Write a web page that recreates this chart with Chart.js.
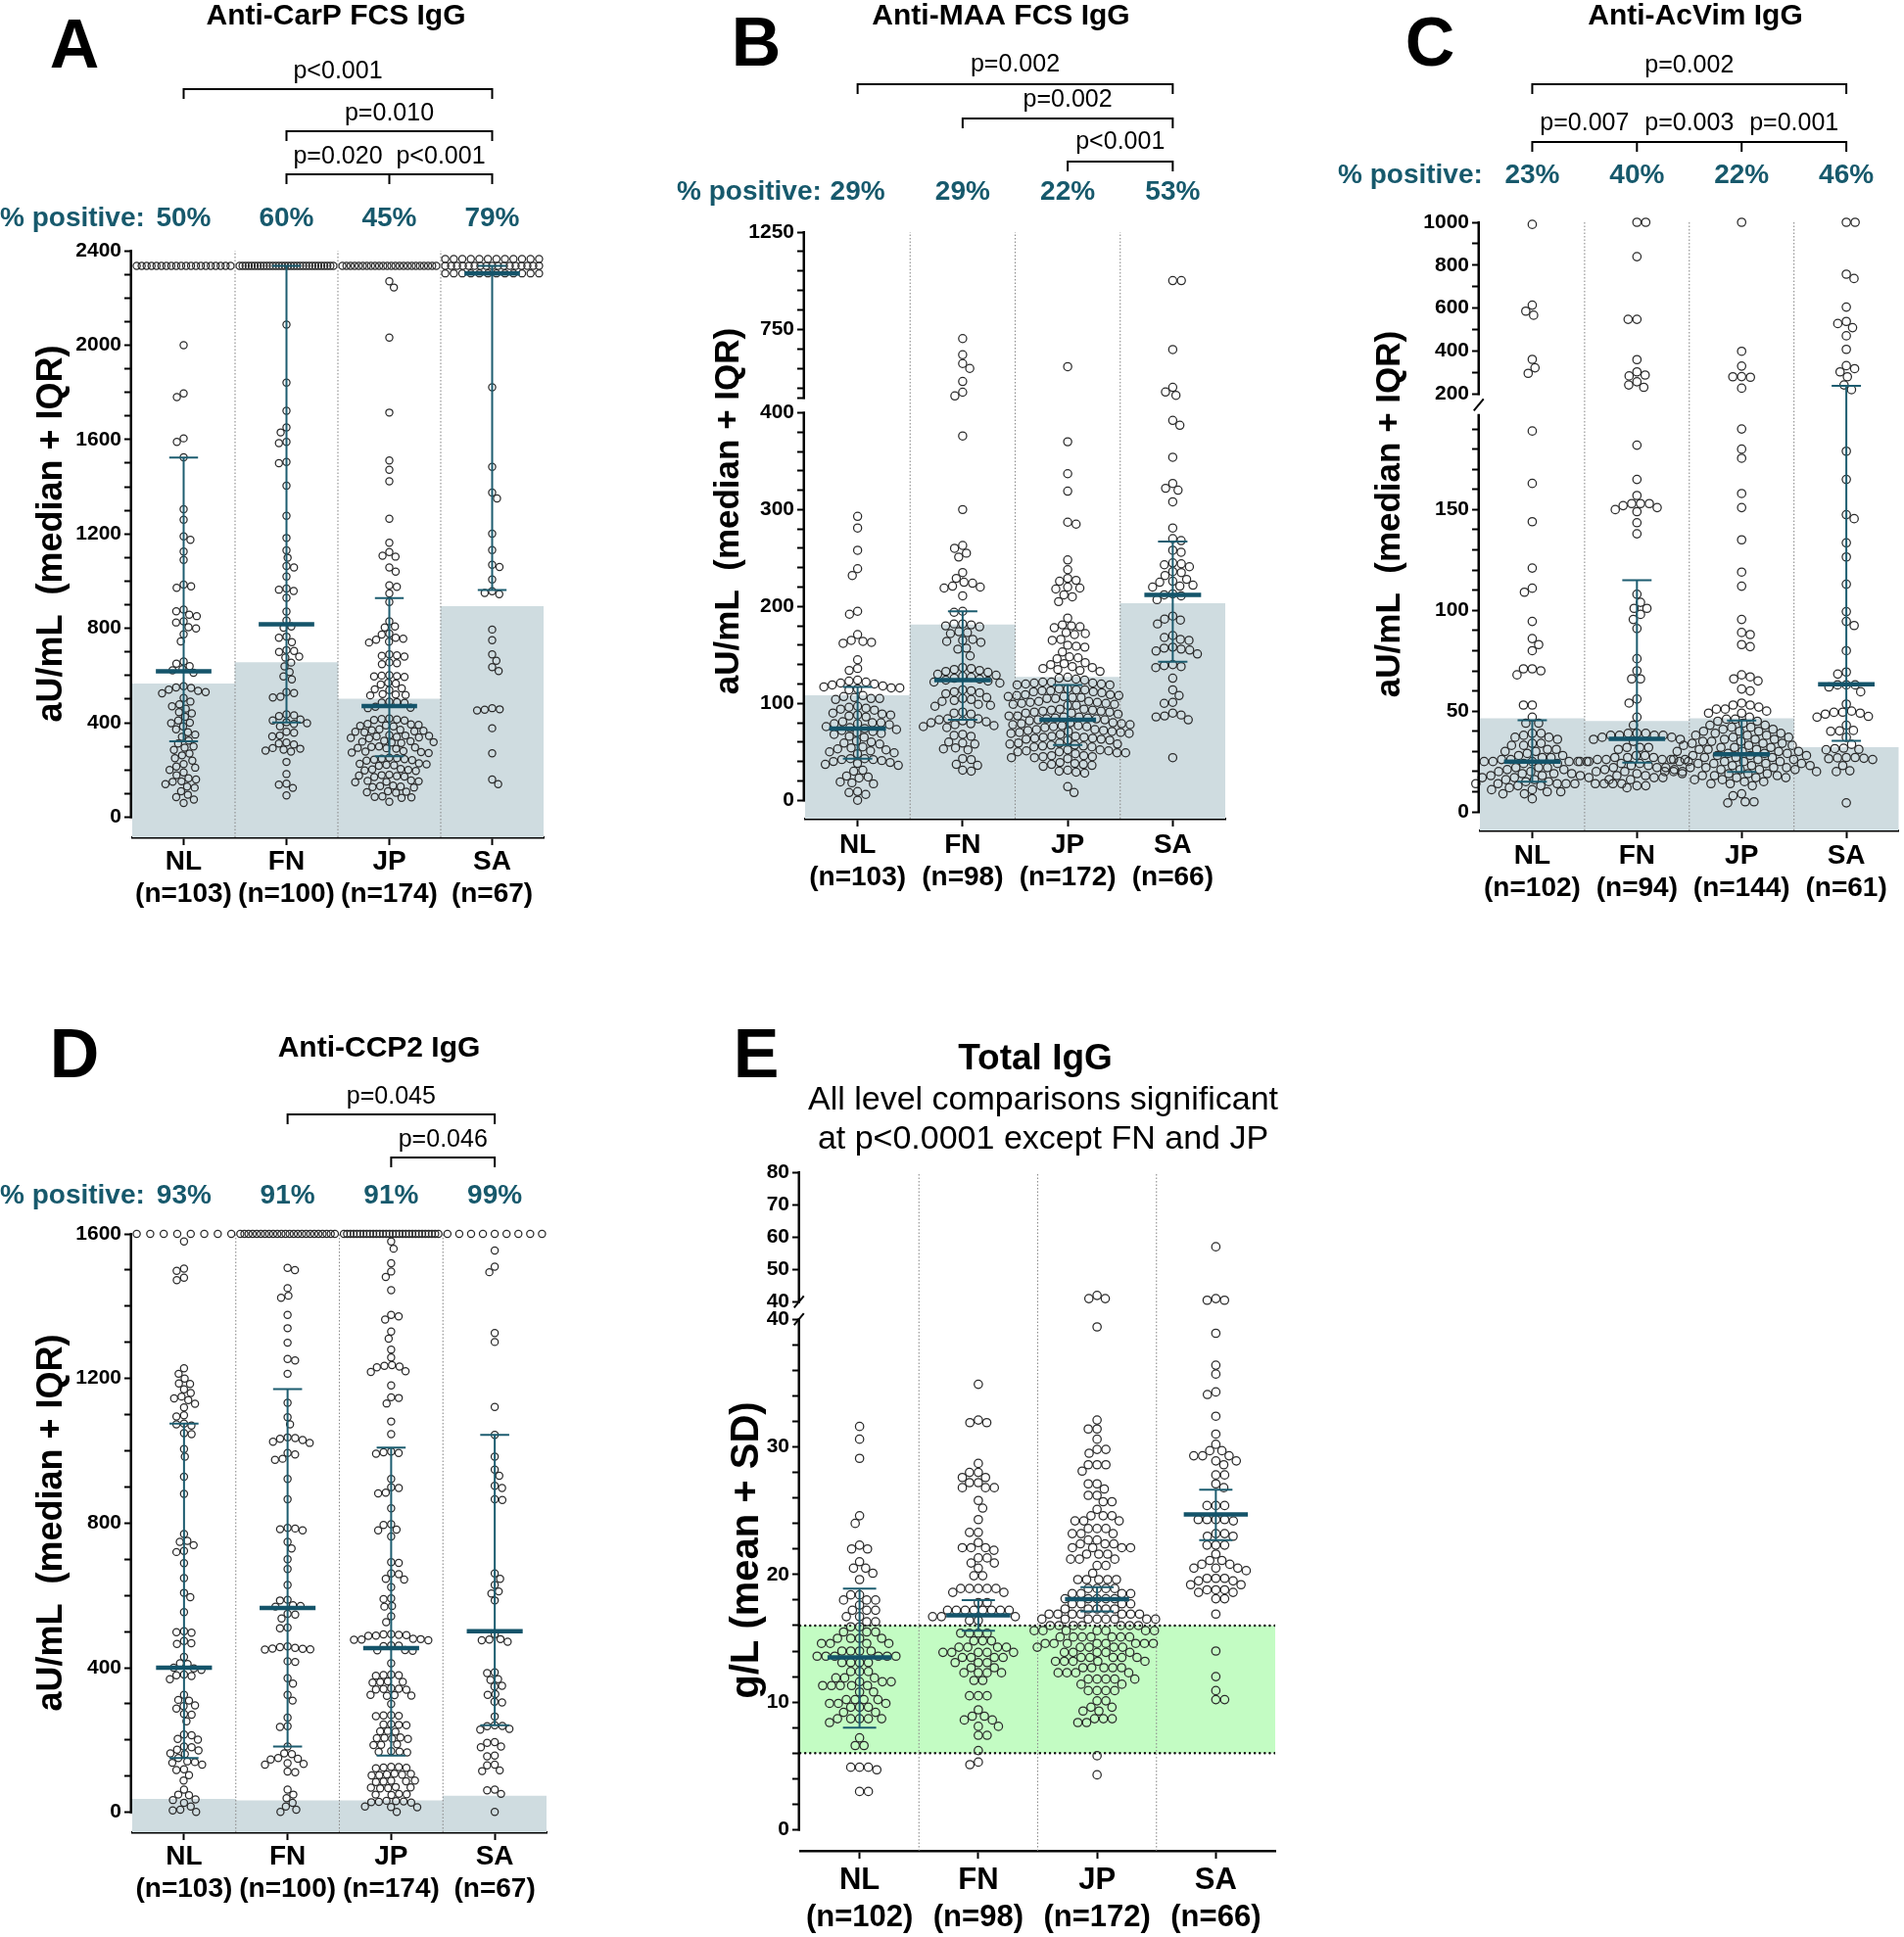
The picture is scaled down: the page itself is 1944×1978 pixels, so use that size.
<!DOCTYPE html>
<html>
<head>
<meta charset="utf-8">
<title>Autoantibody levels by population</title>
<script src="https://cdn.jsdelivr.net/npm/chart.js@4.4.1/dist/chart.umd.min.js"></script>
<style>
  html, body { margin: 0; padding: 0; background: #fff; }
  body { width: 1944px; height: 1978px; position: relative; overflow: hidden; }
  canvas { position: absolute; }
</style>
</head>
<body>
<canvas id="panelA" width="600" height="960" style="left:0;top:0"></canvas>
<canvas id="panelB" width="600" height="960" style="left:680px;top:0"></canvas>
<canvas id="panelC" width="600" height="960" style="left:1344px;top:0"></canvas>
<canvas id="panelD" width="600" height="978" style="left:0;top:1000px"></canvas>
<canvas id="panelE" width="640" height="978" style="left:690px;top:1000px"></canvas>
<script>
/* ---------- data ---------- */
const groupNames = ['NL', 'FN', 'JP', 'SA'];

// A: Anti-CarP FCS IgG (aU/mL)
const carpN = [103, 100, 174, 67];
const carpPositive = ['50%', '60%', '45%', '79%'];
const carpP = ['p<0.001', 'p=0.010', 'p=0.020', 'p<0.001'];
const carpMedian = [618, 817, 471, 2304];
const carpQ1 = [322, 401, 258, 963];
const carpQ3 = [1524, 2336, 928, 2336];
const carpCutoff = [565, 655, 501, 893];
const carpTicks = [0, 400, 800, 1200, 1600, 2000, 2400];
const carpNL = [
  2336, 2336, 2336, 2336, 2336, 2336, 2336, 2336, 2336, 2336,
  2336, 2336, 2336, 2336, 2336, 2336, 2336, 2336, 2336, 2336,
  2000, 1795, 1780, 1605, 1590, 1525, 1305, 1260, 1190, 1175,
  1125, 1090, 985, 978, 972, 880, 872, 858, 852, 830,
  825, 805, 800, 775, 745, 660, 650, 640, 628, 622,
  612, 555, 550, 548, 540, 535, 530, 525, 505, 490,
  478, 470, 460, 445, 440, 425, 410, 400, 398, 385,
  372, 360, 350, 340, 325, 312, 300, 295, 285, 270,
  262, 250, 240, 225, 215, 210, 200, 190, 178, 165,
  160, 152, 150, 140, 130, 125, 110, 95, 85, 75, 60
];
const carpFN = [
  2336, 2336, 2336, 2336, 2336, 2336, 2336, 2336, 2336, 2336,
  2336, 2336, 2336, 2336, 2336, 2336, 2336, 2336, 2336, 2336,
  2336, 2336, 2336, 2336, 2336, 2336, 2336, 2336, 2336, 2336,
  2336, 2336,
  2087, 1841, 1722, 1651, 1630, 1590, 1585, 1505, 1500, 1404,
  1277, 1183, 1131, 1099, 1064, 1058, 1020, 969, 964, 958,
  929, 871, 833, 808, 803, 765, 760, 742, 708, 704,
  700, 680, 676, 655, 639, 615, 596, 584, 530, 526,
  510, 507, 436, 432, 428, 414, 410, 402, 398, 395,
  385, 362, 358, 346, 342, 316, 312, 308, 293, 290,
  286, 282, 278, 234, 183, 142, 138, 124, 92
];
const carpJP = [
  2336, 2336, 2336, 2336, 2336, 2336, 2336, 2336, 2336, 2336,
  2336, 2336, 2336, 2336, 2336, 2336, 2336, 2336, 2336, 2336,
  2336, 2336, 2336, 2336,
  2270, 2244, 2032, 1714, 1511, 1472, 1423, 1264, 1163, 1123,
  1108, 1104, 1058, 1040, 982, 976, 948, 912, 830, 808,
  804, 778, 774, 760, 756, 752, 744, 740, 690, 686,
  684, 680, 656, 652, 648, 602, 600, 598, 596, 594,
  570, 566, 562, 546, 542, 538, 522, 520, 518, 516,
  490, 488, 486, 484, 468, 464, 462, 418, 416, 414,
  412, 410, 395, 393, 391, 389, 387, 385, 372, 370,
  368, 366, 364, 362, 360, 348, 346, 344, 342, 340,
  338, 336, 334, 324, 322, 320, 318, 316, 314, 300,
  298, 296, 294, 292, 290, 280, 278, 276, 274, 272,
  252, 250, 248, 246, 244, 242, 240, 228, 226, 224,
  222, 220, 218, 204, 202, 200, 198, 196, 180, 178,
  176, 174, 172, 170, 156, 154, 152, 150, 148, 134,
  132, 130, 128, 126, 110, 108, 106, 104, 88, 86,
  84, 82, 65
];
const carpSA = [
  2365, 2365, 2365, 2365, 2365, 2365, 2365, 2365, 2365, 2365, 2365, 2365,
  2336, 2336, 2336, 2336, 2336, 2336, 2336, 2336, 2336, 2336,
  2336, 2336, 2336, 2336, 2336, 2336, 2336,
  2304, 2304, 2304, 2304, 2304, 2304, 2304, 2304, 2304, 2304, 2304, 2304,
  1821, 1484, 1375, 1350, 1201, 1132, 1069, 1060, 1007, 957,
  950, 945, 795, 750, 690, 663, 636, 619, 462, 457,
  455, 452, 377, 271, 160, 140
];

// B: Anti-MAA FCS IgG (aU/mL)
const maaN = [103, 98, 172, 66];
const maaPositive = ['29%', '29%', '22%', '53%'];
const maaP = ['p=0.002', 'p=0.002', 'p<0.001'];
const maaMedian = [74, 124, 83, 212];
const maaQ1 = [43, 83, 57, 143];
const maaQ3 = [117, 195, 119, 267];
const maaCutoff = [108, 181, 127, 203];
const maaTicksLow = [0, 100, 200, 300, 400];
const maaTicksHigh = [750, 1250];
const maaNL = [
  293, 281, 258, 239, 232, 195, 192, 171, 165, 164,
  163, 162, 145, 136, 134, 124, 123, 122, 121, 120,
  119, 118, 117, 116, 116, 115, 114, 108, 107, 106,
  105, 105, 104, 97, 96, 95, 94, 93, 90, 89,
  88, 88, 87, 86, 81, 80, 80, 79, 79, 78,
  76, 75, 74, 73, 72, 71, 70, 69, 68, 66,
  65, 61, 60, 59, 58, 55, 54, 53, 52, 51,
  50, 49, 48, 43, 43, 42, 42, 41, 40, 39,
  38, 37, 36, 31, 30, 25, 24, 23, 19, 18,
  17, 9, 8, 6, 0
];
const maaFN = [
  704, 621, 576, 551, 484, 429, 410, 376, 300, 263,
  260, 255, 251, 235, 229, 225, 224, 221, 220, 219,
  211, 195, 194, 182, 182, 181, 180, 179, 174, 173,
  172, 166, 165, 164, 163, 157, 156, 149, 137, 136,
  135, 134, 133, 132, 130, 129, 128, 127, 126, 125,
  124, 123, 122, 121, 114, 113, 112, 111, 110, 106,
  105, 104, 103, 102, 99, 98, 97, 91, 90, 89,
  84, 84, 83, 82, 81, 80, 79, 78, 77, 76,
  75, 68, 67, 66, 60, 59, 58, 54, 53, 52,
  43, 42, 37, 36, 31, 30
];
const maaJP = [
  560, 370, 337, 319, 287, 285, 248, 238, 229, 227,
  226, 220, 219, 218, 212, 210, 205, 188, 181, 180,
  179, 178, 173, 172, 171, 166, 165, 160, 159, 158,
  153, 148, 147, 146, 142, 141, 140, 138, 137, 136,
  135, 134, 133, 127, 126, 125, 124,
  122, 122, 121, 121, 120, 120, 119, 119,
  115, 115, 114, 114, 113, 113, 112, 112, 111,
  109, 109, 108, 108, 107, 107, 106, 106, 105, 105,
  102, 102, 101, 101, 100, 100, 99, 99, 98, 98,
  94, 94, 93, 93, 92, 92, 91, 91, 90, 90, 89,
  87, 87, 86, 86, 85, 85, 84, 84, 83, 83, 82,
  80, 80, 79, 79, 78, 78, 77, 77, 76, 76, 75,
  73, 73, 72, 72, 71, 71, 70, 70, 69, 69, 68,
  66, 66, 65, 65, 64, 64, 63, 63, 62, 62,
  59, 59, 58, 58, 57, 57, 56, 56, 55, 55,
  52, 52, 51, 51, 50, 50, 49, 49, 48,
  46, 46, 45, 45, 44, 44, 43,
  39, 38, 37, 37, 36, 35,
  31, 30, 29, 28, 14, 8
];
const maaSA = [
  1001, 1001, 648, 454, 430, 413, 392, 387, 354, 327,
  322, 320, 308, 281, 270, 268, 258, 256, 245, 244,
  243, 241, 236, 235, 232, 228, 226, 225, 222, 221,
  220, 213, 212, 211, 207, 190, 187, 186, 182, 170,
  168, 166, 165, 158, 157, 156, 155, 154, 151, 140,
  139, 138, 137, 126, 114, 108, 101, 100, 90, 88,
  87, 86, 83, 44
];

// C: Anti-AcVim IgG (aU/mL)
const acvN = [102, 94, 144, 61];
const acvPositive = ['23%', '40%', '22%', '46%'];
const acvP = ['p=0.002', 'p=0.007', 'p=0.003', 'p=0.001'];
const acvMedian = [25, 36.3, 28.6, 63.3];
const acvQ1 = [15, 24.5, 19.8, 35.3];
const acvQ3 = [45.5, 115, 45.3, 238];
const acvCutoff = [46.3, 45, 46.3, 32];
const acvTicksLow = [0, 50, 100, 150];
const acvTicksHigh = [200, 400, 600, 800, 1000];
const acvNL = [
  990, 614, 586, 567, 361, 322, 296, 189, 163, 144,
  121, 111, 109, 94.5, 86, 83, 80, 71, 71, 70,
  68, 53, 53, 47, 44, 44, 39, 39, 38, 37,
  37, 36, 34, 34, 33, 33, 31, 31, 30, 30,
  29, 28, 28, 27, 27, 26, 26, 25, 25, 25,
  25, 25, 25, 24, 24, 22, 22, 22, 21, 21,
  20, 20, 19, 19, 19, 18, 18, 18, 17, 17,
  17, 16, 16, 15, 15, 14, 14, 14, 14, 14,
  14, 14, 14, 14, 14, 14, 14, 13, 13, 12,
  11, 11, 10, 10, 9, 9, 6.5
];
const acvFN = [
  1000, 1000, 840, 548, 548, 360, 303, 288, 284, 257,
  242, 231, 182, 165, 157, 153, 153, 153, 152, 151,
  150, 149, 143.5, 138, 108, 104, 101, 101, 98, 95.5,
  91, 76, 70, 66, 66, 56, 54, 47, 43, 39,
  39, 39, 38, 38, 38, 38, 37, 37, 36, 36,
  35, 32, 32, 32, 31, 28, 28, 27, 27, 27,
  26, 26, 26, 26, 25, 25, 25, 25, 24, 24,
  23, 23, 22, 22, 22, 21, 21, 20, 20, 19,
  19, 18, 18, 17, 17, 16, 16, 13, 13, 12
];
const acvJP = [
  1000, 399, 330, 281, 280, 278, 227, 190, 180, 175.5,
  158, 151, 135, 119, 112, 95.5, 89, 88, 83, 82,
  68, 67, 66, 65, 61, 60, 54, 53, 53, 52,
  51, 51, 50, 49, 49, 47, 46, 46, 45, 45,
  44, 43, 43, 42, 42, 41, 41, 40, 40, 40,
  39, 39, 38, 38, 38, 37, 37, 36, 36, 36,
  35, 35, 35, 34, 34, 34, 33, 33, 33, 32,
  32, 32, 31, 31, 31, 30, 30, 30, 30, 29,
  29, 29, 28, 28, 28, 28, 27, 27, 27, 26,
  26, 26, 26, 25, 25, 25, 24, 24, 24, 24,
  23, 23, 23, 22, 22, 22, 22, 21, 21, 21,
  21, 20, 20, 20, 20, 19, 19, 19, 18, 18,
  18, 17, 17, 17, 16, 16, 15, 15, 14, 14,
  13, 9, 8, 5, 5, 4.5
];
const acvSA = [
  1000, 1000, 758, 738, 605, 538, 528, 509, 471, 408,
  332, 318, 303, 280, 242, 220, 179, 165, 147.5, 145.5,
  133.5, 126.5, 113, 99.4, 94.5, 92.5, 80, 69.4, 68.4, 63,
  63, 63, 62, 59.6, 53.5, 50, 49.5, 49.4, 49, 48.5,
  47.4, 47, 43, 40.4, 40.2, 40, 37, 33.5, 31.6, 31.4,
  31, 30.8, 27, 27, 26.8, 26.6, 26.4, 26, 23, 20.4,
  20, 4.5
];

// D: Anti-CCP2 IgG (aU/mL)
const ccpN = [103, 100, 174, 67];
const ccpPositive = ['93%', '91%', '91%', '99%'];
const ccpP = ['p=0.045', 'p=0.046'];
const ccpMedian = [400, 565, 454, 501];
const ccpQ1 = [150, 182, 157, 241];
const ccpQ3 = [1075, 1171, 1009, 1044];
const ccpCutoff = [36, 32, 32, 45];
const ccpTicks = [0, 400, 800, 1200, 1600];
const ccpNL = [
  1600, 1600, 1600, 1600, 1600, 1600, 1600, 1600,
  1579, 1504, 1498, 1479, 1472, 1228, 1213, 1200, 1186, 1185,
  1170, 1160, 1150, 1145, 1140, 1130, 1120, 1098, 1095, 1075,
  1073, 1070, 1049, 1046, 1005, 984, 928, 881, 770, 751,
  748, 739, 723, 720, 689, 648, 607, 595, 554, 501,
  498, 497, 474, 468, 466, 430, 412, 410, 400, 398,
  394, 381, 379, 377, 368, 325, 311, 309, 296, 294,
  287, 272, 270, 252, 215, 213, 203, 201, 182, 180,
  173, 171, 163, 161, 150, 141, 139, 137, 132, 119,
  117, 103, 88, 63, 49, 47, 36, 34, 26, 16,
  7.5, 5, 1
];
const ccpFN = [
  1600, 1600, 1600, 1600, 1600, 1600, 1600, 1600, 1600, 1600, 1600, 1600,
  1600, 1600, 1600, 1600, 1600, 1600, 1600, 1600, 1600, 1600, 1600, 1600,
  1506, 1500, 1450, 1429, 1423, 1376, 1339, 1299, 1254, 1250,
  1213, 1133, 1093, 1073, 1037, 1035, 1033, 1030, 1025, 1022,
  994, 990, 978, 975, 922, 866, 787, 785, 783, 780,
  748, 730, 700, 673, 629, 588, 586, 573, 571, 569,
  549, 547, 536, 511, 509, 459, 457, 455, 453, 451,
  452, 450, 418, 416, 371, 356, 325, 309, 262, 238,
  236, 182, 163, 161, 150, 148, 146, 136, 134, 132,
  113, 111, 63, 49, 39, 26, 16, 7.5, 1
];
const ccpJP = [
  1600, 1600, 1600, 1600, 1600, 1600, 1600, 1600, 1600, 1600,
  1600, 1600, 1600, 1600, 1600, 1600, 1600, 1600, 1600, 1600,
  1600, 1600, 1600, 1600, 1600, 1600, 1600, 1600, 1600, 1600,
  1579, 1559, 1519, 1496, 1481, 1444, 1376, 1372, 1363, 1330,
  1310, 1280, 1258, 1237, 1235, 1233, 1231, 1220, 1218, 1181,
  1148, 1146, 1131, 1081, 1046, 998, 996, 994, 992, 922,
  899, 897, 884, 882, 841, 797, 795, 782, 780, 763,
  692, 690, 661, 659, 646, 644, 623, 592, 590, 571,
  569, 542, 526, 493, 492, 491, 490, 489, 488, 480,
  479, 478, 477, 476, 462, 461, 460, 449, 448, 447,
  412, 381, 380, 379, 378, 362, 361, 360, 359, 343,
  342, 341, 340, 339, 325, 324, 323, 322, 300, 269,
  268, 267, 266, 244, 243, 242, 241, 225, 224, 223,
  207, 206, 205, 204, 203, 188, 187, 186, 169, 168,
  167, 166, 126, 125, 124, 123, 122, 107, 106, 105,
  104, 103, 102, 88, 87, 86, 85, 84, 70, 69,
  68, 67, 66, 51, 50, 49, 48, 32, 31, 30,
  29, 28, 27, 16, 15, 14, 1
];
const ccpSA = [
  1600, 1600, 1600, 1600, 1600, 1600, 1600, 1600, 1600,
  1554, 1509, 1494, 1326, 1301, 1121, 1044, 984, 948, 931,
  903, 897, 866, 864, 661, 646, 629, 611, 605, 586,
  493, 479, 478, 476, 472, 387, 385, 368, 366, 350,
  348, 327, 325, 306, 304, 265, 241, 239, 238, 231,
  229, 194, 192, 182, 180, 157, 155, 132, 130, 116,
  114, 63, 61, 51, 1
];

// E: Total IgG (g/L)
const iggN = [102, 98, 172, 66];
const iggMean = [13.5, 16.8, 18.06, 24.7];
const iggLow = [8.0, 15.6, 17.1, 22.7];
const iggHigh = [18.9, 18.0, 19.0, 26.65];
const iggRefRange = [6, 16];
const iggTicksLow = [0, 10, 20, 30, 40];
const iggTicksHigh = [40, 50, 60, 70, 80];
const iggNL = [
  31.6, 30.6, 29.1, 24.6, 24.0, 22.3, 22.0, 22.0, 21.0, 20.5,
  20.5, 20.1, 19.6, 18.4, 18.4, 18.0, 18.0, 18.0, 17.6, 17.2,
  17.2, 17.2, 16.7, 16.7, 16.3, 16.3, 15.9, 15.9, 15.5, 15.5,
  15.5, 15.0, 15.0, 15.0, 15.0, 14.6, 14.6, 14.6, 14.6, 14.0,
  14.0, 14.0, 14.0, 13.6, 13.6, 13.6, 13.6, 13.6, 13.6, 13.1,
  13.1, 13.1, 13.1, 12.4, 12.4, 12.4, 11.9, 11.9, 11.9, 11.6,
  11.6, 11.6, 11.3, 11.3, 11.3, 11.3, 11.3, 10.8, 10.8, 10.2,
  10.2, 10.2, 10.2, 9.9, 9.9, 9.9, 9.6, 9.6, 9.6, 9.2,
  9.2, 8.7, 8.7, 8.7, 8.7, 8.7, 8.4, 7.2, 6.6, 6.6,
  4.9, 4.9, 4.9, 4.7, 3.0, 3.0
];
const iggFN = [
  34.9, 32.1, 31.9, 31.9, 28.7, 28.0, 28.0, 27.6, 27.6, 27.2,
  27.2, 26.8, 26.8, 26.8, 25.8, 25.2, 24.3, 23.3, 23.3, 22.5,
  22.1, 22.1, 22.1, 21.9, 21.3, 21.3, 20.9, 20.9, 20.5, 19.9,
  19.9, 18.9, 18.9, 18.9, 18.9, 18.9, 18.6, 18.6, 17.8, 17.8,
  17.2, 17.2, 17.2, 17.2, 17.2, 17.2, 17.2, 17.2, 16.7, 16.7,
  16.7, 16.4, 16.4, 15.4, 15.4, 15.4, 15.4, 14.8, 14.8, 14.8,
  14.3, 14.3, 14.3, 14.3, 13.9, 13.9, 13.9, 13.9, 13.9, 13.5,
  13.5, 13.5, 13.5, 13.1, 13.1, 13.1, 12.7, 12.7, 12.3, 12.3,
  12.3, 12.3, 11.7, 11.7, 10.5, 10.5, 10.5, 9.4, 8.9, 8.9,
  8.6, 8.6, 8.1, 8.1, 7.4, 7.4, 6.2, 5.3, 5.1
];
const iggJP = [
  42, 41, 41, 39.4, 32.1, 31.4, 31.4, 30.6, 29.8, 29.8,
  29.5, 28.6, 28.6, 28.6, 28.1, 27.1, 27.1, 26.7, 26.2, 26.2,
  25.7, 25.7, 25.1, 24.6, 24.6, 24.6, 24.2, 24.2, 24.2, 23.6,
  23.6, 23.6, 23.2, 23.2, 23.2, 22.7, 22.7, 22.4, 22.4, 22.4,
  22.1, 22.1, 22.1, 22.1, 21.6, 21.6, 21.6, 21.2, 21.2, 21.2,
  20.7, 20.7, 20.1, 19.6, 19.6, 19.6, 19.6, 19.6, 18.9, 18.9,
  18.9, 18.9, 18.5, 18.5, 18.5, 18.5, 18.1, 18.1, 18.1, 18.1,
  18.1, 17.7, 17.7, 17.7, 17.7, 17.3, 17.3, 17.3, 17.3, 17.3,
  16.9, 16.9, 16.9, 16.9, 16.9, 16.9, 16.9, 16.5, 16.5, 16.5,
  16.5, 16.5, 16.5, 16.5, 16.5, 16.0, 16.0, 16.0, 16.0, 16.0,
  16.0, 16.0, 15.6, 15.6, 15.6, 15.6, 15.6, 15.6, 15.6, 15.1,
  15.1, 15.1, 15.1, 15.1, 15.1, 15.1, 14.6, 14.6, 14.6, 14.6,
  14.6, 14.6, 14.6, 14.6, 14.3, 14.3, 14.3, 14.3, 14.3, 13.9,
  13.9, 13.9, 13.9, 13.9, 13.5, 13.5, 13.5, 13.5, 13.5, 13.2,
  13.2, 13.2, 13.2, 13.2, 12.7, 12.7, 12.7, 12.7, 12.7, 12.3,
  12.3, 12.3, 12.3, 11.8, 11.8, 11.8, 11.8, 11.8, 11.4, 11.4,
  10.9, 10.9, 10.9, 10.9, 10.1, 10.1, 9.6, 9.6, 9.3, 9.3,
  8.7, 8.7, 8.7, 8.4, 8.4, 5.8, 4.3
];
const iggSA = [
  57, 41, 40.5, 40.5, 38.9, 36.4, 35.7, 34.3, 34.1, 32.4,
  31.0, 30.2, 29.7, 29.7, 29.3, 29.3, 29.3, 28.9, 28.9, 28.6,
  27.8, 27.8, 27.1, 26.8, 25.4, 25.4, 25.4, 24.3, 24.3, 24.3,
  24.3, 24.2, 23.2, 23.2, 23.0, 23.0, 22.3, 22.3, 22.3, 21.6,
  21.1, 21.1, 20.8, 20.8, 20.5, 20.5, 20.5, 20.3, 19.7, 19.7,
  19.7, 19.5, 19.5, 19.2, 19.2, 18.8, 18.8, 18.8, 18.6, 18.6,
  18.1, 18.1, 16.9, 14.0, 12.0, 10.9, 10.2, 10.2
];

/* ---------- styling ---------- */
const FONT = "'Liberation Sans', Arial, Helvetica, sans-serif";
const TEAL = '#17596c';
const BAR_FILL = '#cfdce0';
const BAND_FILL = '#c3fcc3';

function xLabels(nArr) {
  return groupNames.map((g, i) => [g, '(n=' + nArr[i] + ')']);
}

function mapValue(segs, v) {
  for (const s of segs) {
    if (v <= s.to) return s.t0 + (v - s.from) * s.k;
  }
  const s = segs[segs.length - 1];
  return s.t0 + (v - s.from) * s.k;
}

function buildTicks(segs) {
  const out = [];
  segs.forEach(s => {
    const [start, step] = s.minor;
    for (let v = start; v <= s.to + 1e-9; v += step) {
      out.push({t: s.t0 + (v - s.from) * s.k, label: s.major.includes(v) ? String(v) : ''});
    }
    (s.ends || []).forEach(v => out.push({t: s.t0 + (v - s.from) * s.k, label: ''}));
  });
  return out.sort((a, b) => a.t - b.t);
}

const panels = [
  {
    canvas: 'panelA', w: 600, h: 960,
    plot: {l: 135, t: 256, r: 555, b: 855},
    groups: [carpNL, carpFN, carpJP, carpSA], labels: xLabels(carpN),
    mid: carpMedian, lo: carpQ1, hi: carpQ3, cutoff: carpCutoff,
    segs: [{from: 0, to: 2400, t0: 0, k: 1, major: carpTicks, minor: [0, 100]}],
    yMin: -85, rows: [2365, 2336, 2304], r: 3.6, slashes: [],
    xFont: 28, xLine: 1.18, xPad: 1,
    letter: ['A', 76, 50], titles: [['Anti-CarP FCS IgG', 343, 17, 'bold', 30]],
    brackets: [
      {at: [1, 4], y: 91, text: [[carpP[0], 2.5, 73]]},
      {at: [2, 4], y: 134, text: [[carpP[1], 3, 116]]},
      {at: [2, 3, 4], y: 178, text: [[carpP[2], 2.5, 160], [carpP[3], 3.5, 160]]}
    ],
    pct: {vals: carpPositive, x: 0, y: 223},
    yTitle: ['aU/mL  (median + IQR)', 53, 545, 36]
  },
  {
    canvas: 'panelB', w: 600, h: 960,
    plot: {l: 142, t: 237, r: 571, b: 836},
    groups: [maaNL, maaFN, maaJP, maaSA], labels: xLabels(maaN),
    mid: maaMedian, lo: maaQ1, hi: maaQ3, cutoff: maaCutoff,
    segs: [
      {from: 0, to: 400, t0: 0, k: 1, major: maaTicksLow, minor: [0, 20]},
      {from: 400, to: 1250, t0: 415.3, k: 0.2013, major: maaTicksHigh, minor: [450, 100], ends: [400]}
    ],
    yMin: -19, rows: [], r: 4.1, slashes: [],
    xFont: 28, xLine: 1.18, xPad: 3,
    letter: ['B', 92, 48], titles: [['Anti-MAA FCS IgG', 342, 17, 'bold', 30]],
    brackets: [
      {at: [1, 4], y: 86, text: [[maaP[0], 2.5, 66]]},
      {at: [2, 4], y: 121, text: [[maaP[1], 3, 102]]},
      {at: [3, 4], y: 165, text: [[maaP[2], 3.5, 145]]}
    ],
    pct: {vals: maaPositive, x: 11, y: 196},
    yTitle: ['aU/mL  (median + IQR)', 64, 522, 35]
  },
  {
    canvas: 'panelC', w: 600, h: 960,
    plot: {l: 167, t: 227, r: 599, b: 848},
    groups: [acvNL, acvFN, acvJP, acvSA], labels: xLabels(acvN),
    mid: acvMedian, lo: acvQ1, hi: acvQ3, cutoff: acvCutoff,
    segs: [
      {from: 0, to: 197, t0: 0, k: 1, major: acvTicksLow, minor: [0, 10]},
      {from: 200, to: 1000, t0: 207.4, k: 0.1065, major: acvTicksHigh, minor: [200, 100]}
    ],
    yMin: -9.2, rows: [], r: 4.2, slashes: [202],
    xFont: 28, xLine: 1.18, xPad: 2,
    letter: ['C', 116, 48], titles: [['Anti-AcVim IgG', 387, 17, 'bold', 30]],
    brackets: [
      {at: [1, 4], y: 86, text: [[acvP[0], 2.5, 67]]},
      {at: [1, 2, 3, 4], y: 145, text: [[acvP[1], 1.5, 126], [acvP[2], 2.5, 126], [acvP[3], 3.5, 126]]}
    ],
    pct: {vals: acvPositive, x: 22, y: 179},
    yTitle: ['aU/mL  (median + IQR)', 75, 525, 35]
  },
  {
    canvas: 'panelD', w: 600, h: 978,
    plot: {l: 135, t: 260, r: 558, b: 871},
    groups: [ccpNL, ccpFN, ccpJP, ccpSA], labels: xLabels(ccpN),
    mid: ccpMedian, lo: ccpQ1, hi: ccpQ3, cutoff: ccpCutoff,
    segs: [{from: 0, to: 1600, t0: 0, k: 1, major: ccpTicks, minor: [0, 100]}],
    yMin: -55, rows: [1600], r: 3.6, slashes: [],
    xFont: 28, xLine: 1.18, xPad: 1,
    letter: ['D', 76, 81], titles: [['Anti-CCP2 IgG', 387, 71, 'bold', 30]],
    brackets: [
      {at: [2, 4], y: 138, text: [[ccpP[0], 3, 120]]},
      {at: [3, 4], y: 182, text: [[ccpP[1], 3.5, 164]]}
    ],
    pct: {vals: ccpPositive, x: 0, y: 221},
    yTitle: ['aU/mL  (median + IQR)', 53, 555, 36]
  },
  {
    canvas: 'panelE', w: 640, h: 978,
    plot: {l: 127, t: 197, r: 612, b: 890},
    groups: [iggNL, iggFN, iggJP, iggSA], labels: xLabels(iggN),
    mid: iggMean, lo: iggLow, hi: iggHigh, cutoff: null, band: iggRefRange,
    segs: [
      {from: 0, to: 40, t0: 0, k: 1, major: iggTicksLow, minor: [0, 2]},
      {from: 40, to: 80, t0: 41.36, k: 0.254, major: iggTicksHigh, minor: [40, 10]}
    ],
    yMin: -1.65, rows: [], r: 4.2, slashes: [40, 41.36],
    xFont: 31, xLine: 1.22, xPad: 4,
    letter: ['E', 82, 81],
    titles: [
      ['Total IgG', 367, 82, 'bold', 37],
      ['All level comparisons significant', 375, 124, 'normal', 34],
      ['at p<0.0001 except FN and JP', 375, 164, 'normal', 34]
    ],
    brackets: [], pct: null,
    yTitle: ['g/L (mean + SD)', 73, 583, 40]
  }
];

/* ---------- drawing helpers ---------- */
function text(ctx, s, x, y, weight, size, align, color) {
  ctx.font = weight + ' ' + size + 'px ' + FONT;
  ctx.fillStyle = color || '#000';
  ctx.textAlign = align || 'center';
  ctx.textBaseline = 'middle';
  ctx.fillText(s, x, y);
}

function decoPlugin(P) {
  return {
    id: 'deco_' + P.canvas,
    afterDraw(chart) {
      const ctx = chart.ctx, xs = chart.scales.x, ys = chart.scales.y, ca = chart.chartArea;
      ctx.save();
      // y axis line, drawn per segment so breaks stay open
      const ax = ca.left - 1.25;
      ctx.strokeStyle = '#000';
      ctx.lineWidth = 2.5;
      P.segs.forEach(s => {
        ctx.beginPath();
        ctx.moveTo(ax, ys.getPixelForValue(s.t0) + 1);
        ctx.lineTo(ax, ys.getPixelForValue(s.t0 + (s.to - s.from) * s.k) - 1);
        ctx.stroke();
      });
      ctx.lineWidth = 2;
      P.slashes.forEach(t => {
        const y = ys.getPixelForValue(t);
        ctx.beginPath();
        ctx.moveTo(ax - 5, y + 6);
        ctx.lineTo(ax + 5, y - 6);
        ctx.stroke();
      });
      // panel letter and titles
      text(ctx, P.letter[0], P.letter[1], P.letter[2], 'bold', 70);
      P.titles.forEach(t => text(ctx, t[0], t[1], t[2], t[3], t[4]));
      // comparison brackets
      ctx.lineWidth = 2;
      P.brackets.forEach(b => {
        const px = b.at.map(c => xs.getPixelForValue(c));
        ctx.beginPath();
        ctx.moveTo(px[0], b.y + 10);
        ctx.lineTo(px[0], b.y);
        ctx.lineTo(px[px.length - 1], b.y);
        ctx.lineTo(px[px.length - 1], b.y + 10);
        px.slice(1, -1).forEach(x => { ctx.moveTo(x, b.y); ctx.lineTo(x, b.y + 10); });
        ctx.stroke();
        b.text.forEach(t => text(ctx, t[0], xs.getPixelForValue(t[1]), t[2], 'normal', 25));
      });
      // % positive row
      if (P.pct) {
        text(ctx, '% positive:', P.pct.x, P.pct.y, 'bold', 28, 'left', TEAL);
        P.pct.vals.forEach((s, i) => text(ctx, s, xs.getPixelForValue(i + 1), P.pct.y, 'bold', 28, 'center', TEAL));
      }
      // y axis title
      ctx.translate(P.yTitle[1], P.yTitle[2]);
      ctx.rotate(-Math.PI / 2);
      text(ctx, P.yTitle[0], 0, 0, 'bold', P.yTitle[3]);
      ctx.restore();
    }
  };
}

function buildChart(P) {
  const tf = v => mapValue(P.segs, v);
  const last = P.segs[P.segs.length - 1];
  const yMax = tf(last.to);
  const ticks = buildTicks(P.segs);
  const datasets = [];

  if (P.cutoff) {
    datasets.push({
      type: 'bar', order: 10,
      data: P.cutoff.map((c, i) => ({x: i + 1, y: [P.yMin, tf(c)]})),
      backgroundColor: BAR_FILL, borderWidth: 0,
      categoryPercentage: 1, barPercentage: 1
    });
  }
  if (P.band) {
    const bandLine = {
      type: 'line', order: 9, pointRadius: 0, borderColor: '#111', borderWidth: 2.4,
      borderDash: [0.1, 5], borderCapStyle: 'round', tension: 0
    };
    datasets.push(Object.assign({}, bandLine, {data: [{x: 0.5, y: P.band[0]}, {x: 4.5, y: P.band[0]}], fill: false}));
    datasets.push(Object.assign({}, bandLine, {data: [{x: 0.5, y: P.band[1]}, {x: 4.5, y: P.band[1]}], fill: '-1', backgroundColor: BAND_FILL}));
  }
  // dotted separators between groups
  datasets.push({
    type: 'line', order: 8, pointRadius: 0, spanGaps: false,
    borderColor: '#8c8c8c', borderWidth: 1.1, borderDash: [1.5, 2],
    data: [1.5, 2.5, 3.5].flatMap(x => [{x, y: P.yMin}, {x, y: yMax}, {x, y: null}])
  });
  // individual values
  const pointSets = [];
  P.groups.forEach((g, i) => {
    pointSets.push(datasets.length);
    datasets.push({
      type: 'scatter', order: 5, clip: false,
      data: g.map(v => ({x: i + 1, y: tf(v)})),
      pointRadius: P.r, pointBorderWidth: 1.25,
      pointBorderColor: '#2b2b2b', pointBackgroundColor: 'rgba(0,0,0,0)'
    });
  });
  // whiskers and caps
  const capW = 0.14, midW = 0.27;
  const whisk = [], mids = [];
  P.mid.forEach((m, i) => {
    const c = i + 1, a = tf(P.lo[i]), b = tf(P.hi[i]);
    whisk.push({x: c - capW, y: a}, {x: c + capW, y: a}, {x: c, y: null},
               {x: c, y: a}, {x: c, y: b}, {x: c, y: null},
               {x: c - capW, y: b}, {x: c + capW, y: b}, {x: c, y: null});
    mids.push({x: c - midW, y: tf(m)}, {x: c + midW, y: tf(m)}, {x: c, y: null});
  });
  datasets.push({type: 'line', order: 2, data: whisk, borderColor: '#1d5d70', borderWidth: 2,
                 pointRadius: 0, spanGaps: false, tension: 0, clip: false});
  datasets.push({type: 'line', order: 1, data: mids, borderColor: '#14546a', borderWidth: 4.5,
                 pointRadius: 0, spanGaps: false, tension: 0, clip: false});

  const chart = new Chart(document.getElementById(P.canvas), {
    type: 'scatter',
    data: {datasets},
    options: {
      responsive: false, animation: false, events: [],
      layout: {padding: {left: 0, top: P.plot.t, right: P.w - P.plot.r, bottom: 0}},
      plugins: {legend: {display: false}, tooltip: {enabled: false}},
      scales: {
        x: {
          type: 'linear', min: 0.5, max: 4.5, offset: false,
          afterBuildTicks: s => { s.ticks = [1, 2, 3, 4].map(v => ({value: v})); },
          afterFit: s => { s.height = P.h - P.plot.b; },
          ticks: {
            autoSkip: false, maxRotation: 0, padding: P.xPad, color: '#000',
            font: {family: FONT, size: P.xFont, weight: 'bold', lineHeight: P.xLine},
            callback: (v, i) => P.labels[i]
          },
          grid: {offset: false, drawOnChartArea: false, drawTicks: true, tickLength: 8, tickWidth: 2, color: '#000'},
          border: {display: true, color: '#000', width: 2.5}
        },
        y: {
          type: 'linear', min: P.yMin, max: yMax,
          afterBuildTicks: s => { s.ticks = ticks.map(t => ({value: t.t})); },
          afterFit: s => { s.width = P.plot.l; },
          ticks: {
            autoSkip: false, padding: 3, color: '#000',
            font: {family: FONT, size: 21, weight: 'bold'},
            callback: (v, i) => ticks[i].label
          },
          grid: {drawOnChartArea: false, drawTicks: true, tickLength: 8, tickWidth: 2, color: '#000'},
          border: {display: false}
        }
      }
    },
    plugins: [decoPlugin(P)]
  });
  return {chart, tf, pointSets};
}

/* ---------- column scatter (beeswarm) layout ---------- */
function spreadPoints(built, P) {
  const {chart, tf, pointSets} = built;
  const xs = chart.scales.x, ys = chart.scales.y;
  const ppu = xs.getPixelForValue(2) - xs.getPixelForValue(1);
  const d = 2 * P.r + 0.6;
  pointSets.forEach((dsIndex, gi) => {
    const pts = P.groups[gi].map(v => ({v, py: ys.getPixelForValue(tf(v)), dx: 0, fixed: false}));
    // long runs of identical capped values are laid out as full-width rows
    P.rows.forEach(rv => {
      const row = pts.filter(p => p.v === rv);
      const span = ppu / 2 - P.r - 1;
      row.forEach((p, i) => {
        p.dx = row.length === 1 ? 0 : -span + 2 * span * i / (row.length - 1);
        p.fixed = true;
      });
    });
    const placed = pts.filter(p => p.fixed);
    let flip = 1;
    pts.filter(p => !p.fixed).sort((a, b) => a.py - b.py).forEach(p => {
      const spans = [];
      placed.forEach(q => {
        const dy = Math.abs(q.py - p.py);
        if (dy < d) {
          const w = Math.sqrt(d * d - dy * dy);
          spans.push([q.dx - w, q.dx + w]);
        }
      });
      const cands = [0];
      spans.forEach(s => cands.push(s[0], s[1]));
      cands.sort((a, b) => (Math.abs(a) - Math.abs(b)) || (a - b) * flip);
      p.dx = cands.find(c => spans.every(s => c <= s[0] + 1e-6 || c >= s[1] - 1e-6));
      flip = -flip;
      placed.push(p);
    });
    chart.data.datasets[dsIndex].data = pts.map(p => ({x: gi + 1 + p.dx / ppu, y: tf(p.v)}));
  });
  chart.update('none');
}

panels.forEach(P => spreadPoints(buildChart(P), P));
</script>
</body>
</html>
